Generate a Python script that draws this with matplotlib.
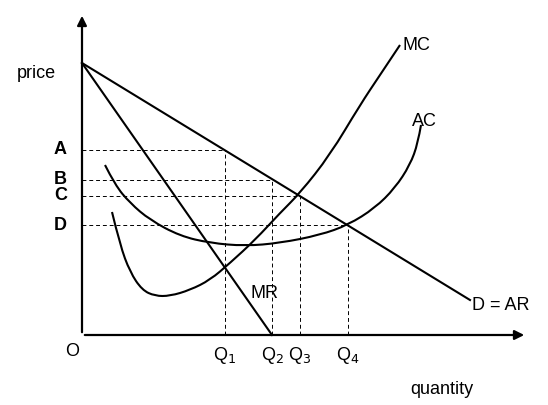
import matplotlib.pyplot as plt
from matplotlib.path import Path
from matplotlib.patches import PathPatch

plt.rcParams['font.family'] = ['Liberation Sans', 'DejaVu Sans']

# diagram coordinates (x right, y up from origin O)
demand = [(0, 272), (388, 35)]
mr = [(0, 272), (190, 0)]
mc_x = [30, 38, 48, 60, 73, 88, 108, 128, 148, 173, 198, 218, 248, 278, 298, 318]
mc_y = [123, 90, 63, 45, 39, 39, 45, 55, 72, 95, 122, 142, 180, 230, 260, 290]
ac_x = [23, 33, 48, 68, 98, 128, 163, 198, 238, 266, 293, 313, 328, 336, 339]
ac_y = [170, 150, 132, 115, 99, 92, 89, 92, 100, 110, 127, 147, 170, 192, 210]
price_labels = ['A', 'B', 'C', 'D']
price_levels = [185, 155, 139, 110]
qty_labels = ['Q$_1$', 'Q$_2$', 'Q$_3$', 'Q$_4$']
qty_levels = [143, 190, 218, 266]


def smooth_curve(xs, ys):
    # quadratic bezier through midpoints, control points are the read points
    pts = list(zip(xs, ys))
    verts = [pts[0]]
    codes = [Path.MOVETO]
    for i in range(1, len(pts) - 1):
        mid = ((pts[i][0] + pts[i + 1][0]) / 2, (pts[i][1] + pts[i + 1][1]) / 2)
        if i == len(pts) - 2:
            mid = pts[-1]
        verts += [pts[i], mid]
        codes += [Path.CURVE3, Path.CURVE3]
    return PathPatch(Path(verts, codes), fill=False, edgecolor='black', lw=1.5)


fig = plt.figure(figsize=(5.48, 4.05), dpi=100)
ax = fig.add_axes([0, 0, 1, 1])
ax.set_xlim(-82, 466)
ax.set_ylim(-70, 335)
ax.axis('off')

# axes with arrows
ax.annotate('', xy=(0, 322), xytext=(0, 0), arrowprops=dict(arrowstyle='-|>', color='black', lw=1.6, mutation_scale=14))
ax.annotate('', xy=(445, 0), xytext=(0, 0), arrowprops=dict(arrowstyle='-|>', color='black', lw=1.6, mutation_scale=14))

ax.plot(*zip(*demand), color='black', lw=1.5)
ax.plot(*zip(*mr), color='black', lw=1.5)
ax.add_patch(smooth_curve(mc_x, mc_y))
ax.add_patch(smooth_curve(ac_x, ac_y))

# dashed guides
dash = dict(color='black', lw=0.7, ls=(0, (4, 3)))
for lvl, q in zip(price_levels, [143, 190, 218, 266]):
    ax.plot([0, q], [lvl, lvl], **dash)
for q, top in zip(qty_levels, [185, 155, 139, 110]):
    ax.plot([q, q], [0, top], **dash)

for lab, lvl in zip(price_labels, price_levels):
    ax.text(-28, lvl, lab, fontsize=13, fontweight='bold', va='center', ha='left')
for lab, q in zip(qty_labels, qty_levels):
    ax.text(q, -10, lab, fontsize=13, va='top', ha='center')

ax.text(-10, -8, 'O', fontsize=13, va='top', ha='center')
ax.text(-65, 262, 'price', fontsize=13, va='center', ha='left')
ax.text(360, -55, 'quantity', fontsize=13, va='center', ha='center')
ax.text(320, 290, 'MC', fontsize=13, va='center', ha='left')
ax.text(330, 213, 'AC', fontsize=13, va='center', ha='left')
ax.text(168, 42, 'MR', fontsize=13, va='center', ha='left')
ax.text(390, 30, 'D = AR', fontsize=13, va='center', ha='left')

fig.savefig('out.png', dpi=100)
